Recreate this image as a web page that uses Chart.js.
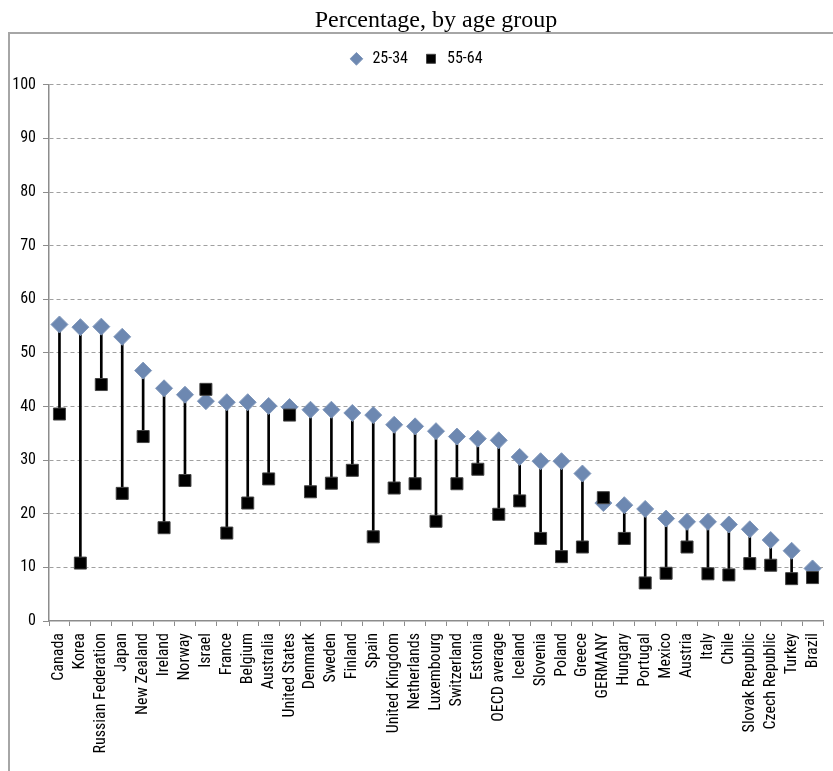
<!DOCTYPE html>
<html>
<head>
<meta charset="utf-8">
<script src="https://cdn.jsdelivr.net/npm/chart.js@4/dist/chart.umd.min.js"></script>
<style>
    html, body { margin: 0; padding: 0; background: #fff; overflow: hidden; }
    #wrap { position: relative; width: 833px; height: 771px; }
    /* grey frame that sits behind the plot */
    #frame {
        position: absolute; left: 8px; top: 32px; width: 900px; height: 800px;
        border-left: 2px solid #a6a6a6; border-top: 2px solid #a6a6a6;
    }
    #chart { position: absolute; left: 0; top: 0; }
</style>
</head>
<body>
<div id="wrap">
    <div id="frame"></div>
    <canvas id="chart" width="833" height="771"></canvas>
</div>
<script>
// Countries, ordered as in the chart
const countries = [
    'Canada', 'Korea', 'Russian Federation', 'Japan', 'New Zealand', 'Ireland',
    'Norway', 'Israel', 'France', 'Belgium', 'Australia', 'United States',
    'Denmark', 'Sweden', 'Finland', 'Spain', 'United Kingdom', 'Netherlands',
    'Luxembourg', 'Switzerland', 'Estonia', 'OECD average', 'Iceland', 'Slovenia',
    'Poland', 'Greece', 'GERMANY', 'Hungary', 'Portugal', 'Mexico', 'Austria',
    'Italy', 'Chile', 'Slovak Republic', 'Czech Republic', 'Turkey', 'Brazil'
];

// 25-34 year-olds (%)
const age25to34 = [
    55.3, 54.8, 54.9, 53.0, 46.7, 43.4,
    42.2, 41.0, 40.8, 40.8, 40.1, 39.9,
    39.4, 39.4, 38.8, 38.4, 36.6, 36.3,
    35.4, 34.4, 34.0, 33.7, 30.6, 29.8,
    29.8, 27.5, 22.0, 21.6, 20.9, 19.1, 18.5,
    18.5, 18.0, 17.1, 15.1, 13.1, 9.8
];

// 55-64 year-olds (%)
const age55to64 = [
    38.6, 10.8, 44.1, 23.8, 34.4, 17.4,
    26.2, 43.2, 16.4, 22.0, 26.5, 38.4,
    24.1, 25.7, 28.1, 15.7, 24.8, 25.6,
    18.6, 25.6, 28.3, 19.9, 22.4, 15.4,
    12.0, 13.8, 23.0, 15.4, 7.1, 8.9, 13.8,
    8.8, 8.6, 10.7, 10.4, 7.9, 8.1
];

const yTicks = [0, 10, 20, 30, 40, 50, 60, 70, 80, 90, 100];

Chart.defaults.font.family = "'Roboto Condensed', 'DejaVu Sans Condensed', sans-serif";
Chart.defaults.color = '#000';

// vertical connector between the two age groups
const spans = countries.map((c, i) => [age55to64[i], age25to34[i]]);

// leave a little room under the legend before the plot starts
const legendGap = {
    id: 'legendGap',
    beforeLayout(chart) {
        const legend = chart.legend;
        if (!legend || legend._gapPatched) return;
        const fit = legend.fit;
        legend.fit = function () {
            fit.call(this);
            this.height += 8;
        };
        legend._gapPatched = true;
    }
};

new Chart(document.getElementById('chart'), {
    type: 'bar',
    data: {
        labels: countries,
        datasets: [
            {
                type: 'line',
                label: '25-34',
                data: age25to34,
                showLine: false,
                pointStyle: 'rectRot',
                pointRadius: 8.5,
                pointBackgroundColor: '#6d88b1',
                pointBorderColor: '#8198bb',
                pointBorderWidth: 1,
                order: 1
            },
            {
                type: 'line',
                label: '55-64',
                data: age55to64,
                showLine: false,
                pointStyle: 'rect',
                pointRadius: 8.5,
                pointBackgroundColor: '#000',
                pointBorderColor: '#444',
                pointBorderWidth: 1,
                order: 0
            },
            {
                label: 'span',
                data: spans,
                backgroundColor: '#000',
                barThickness: 2,
                order: 2
            }
        ]
    },
    options: {
        responsive: false,
        animation: false,
        layout: { padding: { left: 8, right: 10, top: 0, bottom: 0 } },
        scales: {
            x: {
                offset: true,
                grid: {
                    offset: true,
                    drawOnChartArea: false,
                    tickLength: 5,
                    tickColor: '#8c8c8c'
                },
                border: { color: '#8c8c8c', width: 1.5 },
                ticks: {
                    autoSkip: false,
                    minRotation: 90,
                    maxRotation: 90,
                    padding: 7,
                    font: { size: 16 }
                },
                afterFit: (scale) => {
                    scale.height = 150;
                    scale.paddingLeft = 0;
                    scale.paddingRight = 0;
                }
            },
            y: {
                min: 0,
                max: 100,
                afterBuildTicks: (scale) => { scale.ticks = yTicks.map(v => ({ value: v })); },
                grid: {
                    color: (ctx) => ctx.index === 0 ? 'rgba(0,0,0,0)' : '#a0a0a0',
                    tickColor: '#8c8c8c',
                    tickLength: 6,
                    tickBorderDash: []
                },
                border: { color: '#8c8c8c', width: 1.5, dash: [4, 3] },
                ticks: { padding: 7, font: { size: 16 } },
                afterFit: (scale) => { scale.width = 41; }
            }
        },
        plugins: {
            title: {
                display: true,
                fullSize: false,
                text: 'Percentage, by age group',
                color: '#000',
                font: { family: "'Liberation Serif', 'Times New Roman', serif", size: 24, weight: 'normal' },
                padding: { top: 6, bottom: 1 }
            },
            legend: {
                display: true,
                labels: {
                    usePointStyle: true,
                    boxHeight: 9,
                    padding: 15,
                    font: { size: 16 },
                    filter: (item) => item.text !== 'span',
                    sort: (a, b) => a.datasetIndex - b.datasetIndex
                }
            },
            tooltip: { enabled: false }
        }
    },
    plugins: [legendGap]
});
</script>
</body>
</html>
